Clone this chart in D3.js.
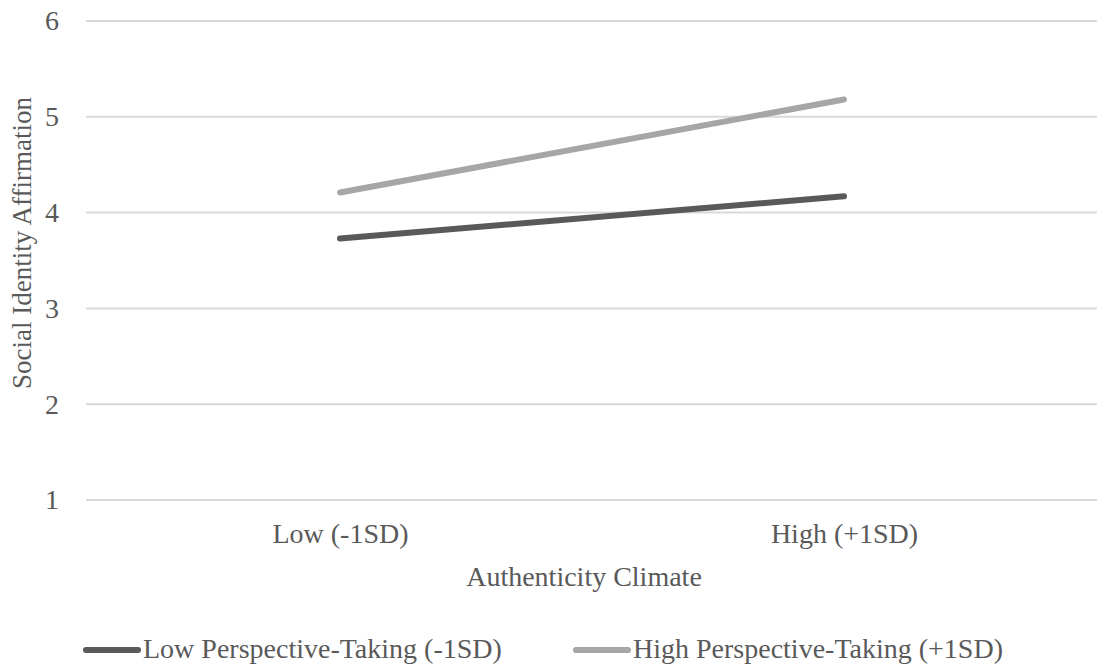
<!DOCTYPE html>
<html><head><meta charset="utf-8">
<script src="https://cdn.jsdelivr.net/npm/d3@7"></script>
<style>
html,body{margin:0;padding:0;background:#fff;}
text{font-family:"Liberation Serif","Times New Roman",serif;fill:#595959;}
</style></head>
<body><svg id="c" width="1097" height="666"></svg>
<script>
const categories = ["Low (-1SD)", "High (+1SD)"];
const seriesNames = ["Low Perspective-Taking (-1SD)", "High Perspective-Taking (+1SD)"];
const lowPT = [3.73, 4.17];
const highPT = [4.21, 5.18];
const yTicks = [1, 2, 3, 4, 5, 6];
const colors = ["#595959", "#a6a6a6"];

(function () {
const svg = d3.select("#c");
const pL = 88, pR = 1096, pT = 21, pB = 500;
const fs = 28;
const x = d3.scalePoint().domain(categories).range([pL, pR]).padding(0.5);
const y = d3.scaleLinear().domain([1, 6]).range([pB, pT]);

// gridlines
svg.append("g").selectAll("line").data(yTicks).join("line")
  .attr("x1", 86).attr("x2", 1097)
  .attr("y1", d => y(d)).attr("y2", d => y(d))
  .attr("stroke", "#d9d9d9").attr("stroke-width", 2);

// y axis labels
const yAxis = d3.axisLeft(y).tickValues(yTicks).tickSize(0).tickPadding(0).tickFormat(d3.format("d"));
const ya = svg.append("g").attr("transform", "translate(59,0)").call(yAxis);
ya.select(".domain").remove();
ya.selectAll("text").attr("font-size", fs).style("font-family", "Liberation Serif, serif").style("fill", "#595959");

// x axis labels
const xAxis = d3.axisBottom(x).tickSize(0).tickPadding(0);
const xa = svg.append("g").attr("transform", "translate(0,520)").call(xAxis);
xa.select(".domain").remove();
xa.selectAll("text").attr("font-size", fs).style("font-family", "Liberation Serif, serif").attr("dy", null).attr("y", 23).style("fill", "#595959");

// titles
svg.append("text").attr("x", 584).attr("y", 586).attr("text-anchor", "middle")
  .attr("font-size", fs).text("Authenticity Climate");
svg.append("text").attr("transform", "translate(31,243) rotate(-90)").attr("text-anchor", "middle")
  .attr("font-size", 27).text("Social Identity Affirmation");

// lines
const line = d3.line().x((d, i) => x(categories[i])).y(d => y(d));
[lowPT, highPT].forEach((s, k) => {
  svg.append("path").datum(s).attr("d", line)
    .attr("fill", "none").attr("stroke", colors[k]).attr("stroke-width", 6)
    .attr("stroke-linecap", "round");
});

// legend
const legendX = [86, 576];
seriesNames.forEach((n, k) => {
  const g = svg.append("g").attr("transform", `translate(${legendX[k]},650)`);
  g.append("line").attr("x1", 0).attr("x2", 52).attr("y1", 0).attr("y2", 0)
    .attr("stroke", colors[k]).attr("stroke-width", 6).attr("stroke-linecap", "round");
  g.append("text").attr("x", 57).attr("y", 8).attr("font-size", fs).text(n);
});
})();
</script></body></html>
